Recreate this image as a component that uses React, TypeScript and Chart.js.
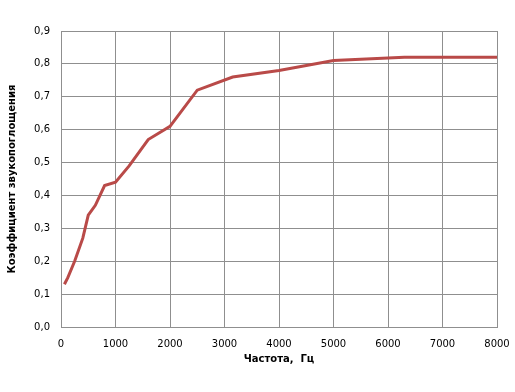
import React, { useEffect, useRef } from "react";
import { Chart, registerables } from "chart.js";

Chart.register(...registerables);

const frequencies = [63, 125, 250, 400, 500, 630, 800, 1000, 1250, 1600, 2000, 2500, 3150, 4000, 5000, 6300, 8000];
const absorption = [0.13, 0.15, 0.2, 0.27, 0.34, 0.37, 0.43, 0.44, 0.49, 0.57, 0.61, 0.72, 0.76, 0.78, 0.81, 0.82, 0.82];
const xTitle = "Частота,  Гц";
const yTitle = "Коэффициент звукопоглощения";

export default function App() {
  const ref = useRef<HTMLCanvasElement>(null);
  useEffect(() => {
    const canvas = ref.current;
    if (!canvas) return;
    const gridColor = "#8f8f8f";
    const chart = new Chart(canvas, {
      type: "line",
      data: {
        datasets: [
          {
            data: frequencies.map((f, i) => ({ x: f, y: absorption[i] })),
            borderColor: "#B94A48",
            borderWidth: 3,
            pointRadius: 0,
            tension: 0,
            fill: false,
          },
        ],
      },
      options: {
        animation: false,
        responsive: false,
        devicePixelRatio: 1,
        layout: { padding: { left: 6, top: 31, right: 18, bottom: 27 } },
        plugins: { legend: { display: false }, tooltip: { enabled: false } },
        scales: {
          x: {
            type: "linear",
            min: 0,
            max: 8000,
            afterFit: (s: any) => {
              s.height = 392 - 327 - 27;
              s.paddingLeft = 0;
              s.paddingRight = 0;
            },
            ticks: {
              stepSize: 1000,
              padding: 11,
              color: "#000",
              maxRotation: 0,
              font: { family: "DejaVu Sans", size: 10 },
              callback: (v: any) => String(v),
            },
            grid: { color: gridColor, drawTicks: false, lineWidth: 1 },
            border: { color: gridColor },
            title: {
              display: true,
              text: xTitle,
              color: "#000",
              font: { family: "DejaVu Sans", size: 10, weight: "bold" },
              padding: { top: 0, bottom: 0 },
            },
          },
          y: {
            min: 0,
            max: 0.9,
            afterFit: (s: any) => {
              s.width = 61 - 6;
              s.paddingTop = 0;
              s.paddingBottom = 0;
            },
            ticks: {
              stepSize: 0.1,
              padding: 11,
              color: "#000",
              font: { family: "DejaVu Sans", size: 10 },
              callback: (v: any) => Number(v).toFixed(1).replace(".", ","),
            },
            grid: { color: gridColor, drawTicks: false, lineWidth: 1 },
            border: { color: gridColor },
            title: {
              display: true,
              text: yTitle,
              color: "#000",
              font: { family: "DejaVu Sans", size: 10, weight: "bold" },
              padding: { top: 0, bottom: 0 },
            },
          },
        },
      },
    });
    return () => chart.destroy();
  }, []);
  return (
    <div style={{ position: "fixed", left: 0, top: 0, width: 515, height: 392, background: "#fff" }}>
      <canvas ref={ref} width={515} height={392} style={{ width: 515, height: 392 }} />
    </div>
  );
}
